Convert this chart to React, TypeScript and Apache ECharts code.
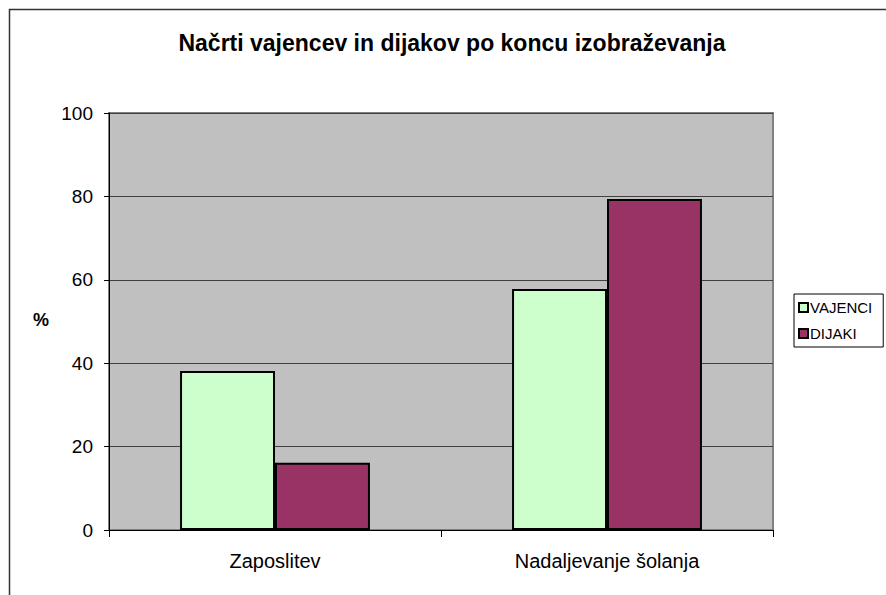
import React, { useEffect, useRef } from "react";
import * as echarts from "echarts";

const categories = ["Zaposlitev", "Nadaljevanje šolanja"];
const vajenci = [38.1, 57.8];
const dijaki = [16.1, 79.4];
const titleText = "Načrti vajencev in dijakov po koncu izobraževanja";

export default function App() {
  const ref = useRef<HTMLDivElement>(null);
  useEffect(() => {
    document.body.style.margin = "0";
    const chart = echarts.init(ref.current!, null, { renderer: "svg" });
    const font = "'Liberation Sans', Arial, sans-serif";
    chart.setOption({
      animation: false,
      backgroundColor: "#ffffff",
      textStyle: { fontFamily: font },
      title: {
        text: titleText,
        left: 452,
        textAlign: "center",
        top: 31,
        padding: 0,
        textStyle: { fontSize: 23, fontWeight: "bold", color: "#000", fontFamily: font },
      },
      grid: {
        left: 109,
        top: 113,
        width: 664,
        height: 417,
        show: true,
        backgroundColor: "#C0C0C0",
        borderColor: "#808080",
        borderWidth: 2,
      },
      legend: {
        orient: "vertical",
        left: 794,
        top: 294,
        backgroundColor: "#fff",
        borderColor: "#000",
        borderWidth: 1,
        padding: [6, 11, 6, 4],
        itemWidth: 9,
        itemHeight: 9,
        itemGap: 11,
        icon: "rect",
        textStyle: { fontSize: 15, color: "#000", fontFamily: font, padding: [0, 0, 0, -3] },
        data: ["VAJENCI", "DIJAKI"],
      },
      xAxis: {
        type: "category",
        data: categories,
        axisLine: { lineStyle: { color: "#000", width: 1 } },
        axisTick: { show: true, length: 7, alignWithLabel: false, lineStyle: { color: "#000" } },
        axisLabel: { fontSize: 20, color: "#000", margin: 21, fontFamily: font },
      },
      yAxis: {
        type: "value",
        min: 0,
        max: 100,
        interval: 20,
        axisLine: { show: true, lineStyle: { color: "#000", width: 1 } },
        axisTick: { show: true, length: 5, lineStyle: { color: "#000" } },
        axisLabel: { fontSize: 19, color: "#000", margin: 16, fontFamily: font },
        splitLine: { show: true, lineStyle: { color: "#404040", width: 1 } },
      },
      graphic: [
        {
          type: "rect",
          shape: { x: 9.5, y: 9.5, width: 900, height: 700 },
          style: { fill: "none", stroke: "#333", lineWidth: 1.5 },
          silent: true,
        },
        {
          type: "text",
          left: 33,
          top: 311,
          style: { text: "%", fill: "#000", font: `bold 18px ${font}` },
        },
      ],
      series: [
        {
          name: "VAJENCI",
          type: "bar",
          data: vajenci,
          barGap: "0%",
          barCategoryGap: "42.8%",
          itemStyle: { color: "#CCFFCC", borderColor: "#000", borderWidth: 2 },
        },
        {
          name: "DIJAKI",
          type: "bar",
          data: dijaki,
          itemStyle: { color: "#993366", borderColor: "#000", borderWidth: 2 },
        },
      ],
    });
    return () => chart.dispose();
  }, []);
  return <div ref={ref} style={{ width: 886, height: 595 }} />;
}
